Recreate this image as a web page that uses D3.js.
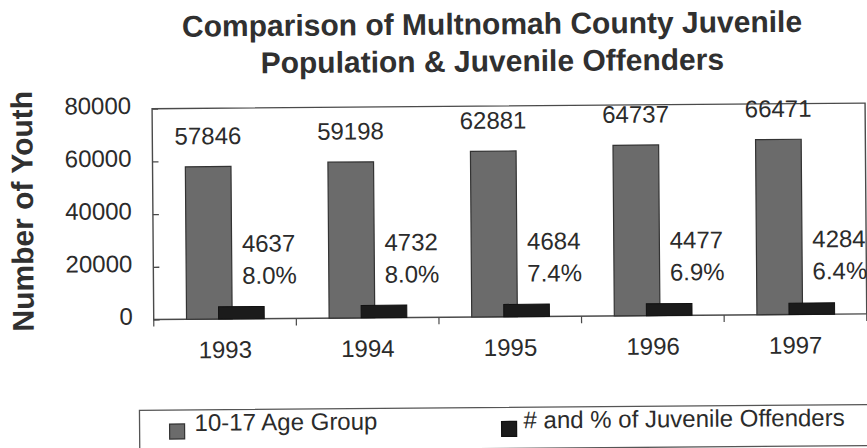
<!DOCTYPE html>
<html>
<head>
<meta charset="utf-8">
<script src="https://cdn.jsdelivr.net/npm/d3@7/dist/d3.min.js"></script>
<style>
  html, body { margin: 0; padding: 0; background: #ffffff; }
  svg { display: block; }
  text { font-family: "Liberation Sans", Arial, Helvetica, sans-serif; fill: #2b2b2b; }
</style>
</head>
<body>
<svg id="chart" width="867" height="448"></svg>
<script>
// Multnomah County juvenile population (ages 10-17) and juvenile offenders
const years = ["1993", "1994", "1995", "1996", "1997"];
const population = [57846, 59198, 62881, 64737, 66471];
const offenders = [4637, 4732, 4684, 4477, 4284];
const yTicks = [0, 20000, 40000, 60000, 80000];
const seriesNames = ["10-17 Age Group", "# and % of Juvenile Offenders"];
const titleLines = ["Comparison of Multnomah County Juvenile", "Population & Juvenile Offenders"];
const yTitle = "Number of Youth";

const W = 867, H = 448;
const plot = { left: 153, right: 866, top: 106.5, bottom: 317.3 };
const popFill = "#6b6b6b", offFill = "#1b1b1b", lineCol = "#4a4a4a";

const svg = d3.select("#chart");
svg.append("rect").attr("width", W).attr("height", H).attr("fill", "#ffffff");

// the whole page sits very slightly tilted
const root = svg.append("g").attr("transform", "rotate(-0.45, 433.5, 224)");

const x = d3.scaleBand().domain(years).range([plot.left, plot.right]).padding(0);
const y = d3.scaleLinear().domain([0, 80000]).range([plot.bottom, plot.top]);
const bw = x.bandwidth();
const barW = bw * 0.32;
const popX = d => x(d) + bw * 0.23;
const offX = d => x(d) + bw * 0.455;

const rows = years.map((yr, i) => ({ year: yr, pop: population[i], off: offenders[i] }));

// title
const title = root.append("text")
  .attr("x", 493.6).attr("text-anchor", "middle")
  .style("font-size", "30px").style("font-weight", "bold").style("fill", "#303030");
titleLines.forEach((t, i) => {
  title.append("tspan").attr("x", 493.6).attr("y", i === 0 ? 34.7 : 71.9).text(t);
});

// y axis title
root.append("text")
  .attr("transform", "translate(33, 208) rotate(-90)")
  .attr("text-anchor", "middle")
  .style("font-size", "30px").style("font-weight", "bold").style("fill", "#303030")
  .text(yTitle);

// plot frame
root.append("rect")
  .attr("x", plot.left).attr("y", plot.top)
  .attr("width", plot.right - plot.left).attr("height", plot.bottom - plot.top)
  .attr("fill", "none").attr("stroke", lineCol).attr("stroke-width", 1.4);

// y axis
const yAxis = root.append("g")
  .attr("transform", `translate(${plot.left},0)`)
  .call(d3.axisLeft(y).tickValues(yTicks).tickFormat(d3.format("d"))
    .tickSizeInner(-6).tickSizeOuter(0).tickPadding(21));
yAxis.select(".domain").remove();
yAxis.selectAll(".tick line").attr("stroke", lineCol).attr("stroke-width", 1.3);
yAxis.selectAll(".tick text")
  .attr("dy", "0.19em")
  .style("font-size", "24px").style("font-family", "'Liberation Sans', Arial, sans-serif")
  .attr("fill", "#2b2b2b");

// x axis (labels centred on each year, ticks on category boundaries)
const xAxis = root.append("g")
  .attr("transform", `translate(0,${plot.bottom})`)
  .call(d3.axisBottom(x).tickSize(0).tickPadding(22));
xAxis.select(".domain").remove();
xAxis.selectAll(".tick text")
  .style("font-size", "24px").style("font-family", "'Liberation Sans', Arial, sans-serif")
  .attr("fill", "#2b2b2b");
const bounds = years.map(d => x(d)).concat([plot.right]);
root.append("g").selectAll("line").data(bounds).join("line")
  .attr("x1", d => d).attr("x2", d => d)
  .attr("y1", plot.bottom).attr("y2", plot.bottom + 7)
  .attr("stroke", lineCol).attr("stroke-width", 1.2);

// bars: population (grey) with overlapping offenders (black)
const bars = root.append("g");
bars.selectAll("rect.pop").data(rows).join("rect").attr("class", "pop")
  .attr("x", d => popX(d.year)).attr("width", barW)
  .attr("y", d => y(d.pop)).attr("height", d => y(0) - y(d.pop))
  .attr("fill", popFill).attr("stroke", "#333").attr("stroke-width", 1.2);
bars.selectAll("rect.off").data(rows).join("rect").attr("class", "off")
  .attr("x", d => offX(d.year)).attr("width", barW)
  .attr("y", d => y(d.off)).attr("height", d => y(0) - y(d.off))
  .attr("fill", offFill).attr("stroke", "#111").attr("stroke-width", 1);

// population labels above the grey bars
root.append("g").selectAll("text").data(rows).join("text")
  .attr("x", d => popX(d.year) + barW / 2)
  .attr("y", d => y(d.pop) - 22.5)
  .attr("text-anchor", "middle")
  .style("font-size", "24px")
  .text(d => d3.format("d")(d.pop));

// offender count and share of the age group
const pct = d3.format(".1%");
const notes = root.append("g").selectAll("text").data(rows).join("text")
  .attr("x", d => offX(d.year) + barW / 2 + 1)
  .style("font-size", "24px");
notes.append("tspan")
  .attr("x", d => offX(d.year) + barW / 2 + 1)
  .attr("y", y(0) - 67)
  .text(d => d3.format("d")(d.off));
notes.append("tspan")
  .attr("x", d => offX(d.year) + barW / 2 + 1)
  .attr("y", y(0) - 35)
  .text(d => pct(d.off / d.pop));

// legend
const legend = root.append("g");
legend.append("rect")
  .attr("x", 138).attr("y", 408).attr("width", 760).attr("height", 41)
  .attr("fill", "none").attr("stroke", "#555").attr("stroke-width", 1.3);
const legendItems = [
  { name: seriesNames[0], fill: popFill, stroke: "#333", sx: 168, tx: 193 },
  { name: seriesNames[1], fill: offFill, stroke: "#111", sx: 500, tx: 522 }
];
const li = legend.selectAll("g.item").data(legendItems).join("g").attr("class", "item");
li.append("rect")
  .attr("x", d => d.sx).attr("y", 422).attr("width", 15).attr("height", 15)
  .attr("fill", d => d.fill).attr("stroke", d => d.stroke).attr("stroke-width", 1.2);
li.append("text")
  .attr("x", d => d.tx).attr("y", 429)
  .style("font-size", "24px")
  .text(d => d.name);
</script>
</body>
</html>
